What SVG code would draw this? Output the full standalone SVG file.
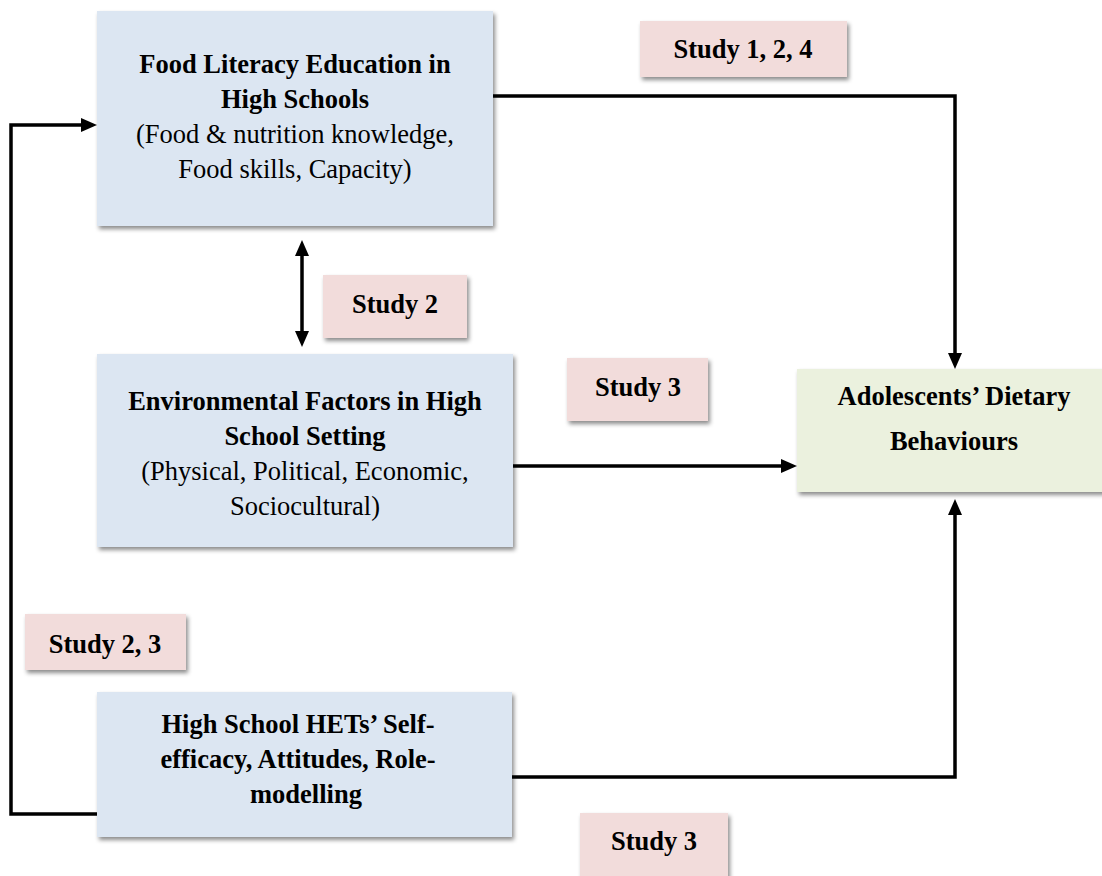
<svg xmlns="http://www.w3.org/2000/svg" width="1102" height="876" viewBox="0 0 1102 876">
  <style>
    text { font-family: "Liberation Serif", "Times New Roman", serif; font-size: 26.5px; fill: #000; text-anchor: middle; }
    .b { font-weight: bold; }
    .node-blue { fill: #dce6f2; }
    .node-green { fill: #ebf1de; }
    .lbl { fill: #f2dcdb; }
    .conn { fill: none; stroke: #000; stroke-width: 3.5; stroke-linejoin: miter; stroke-linecap: butt; }
  </style>
  <defs>
    <filter id="sh" x="-10%" y="-10%" width="125%" height="130%">
      <feDropShadow dx="2" dy="3" stdDeviation="2" flood-color="#000" flood-opacity="0.45"/>
    </filter>
    <marker id="arr" markerUnits="userSpaceOnUse" markerWidth="16" markerHeight="14" viewBox="0 0 16 14" refX="4" refY="7" orient="auto-start-reverse">
      <path d="M0,0 L16,7 L0,14 z" fill="#000"/>
    </marker>
  </defs>
  <rect width="1102" height="876" fill="#fff"/>

  <g id="food-literacy">
    <rect class="node-blue" x="97" y="11" width="396" height="215" filter="url(#sh)"/>
    <text class="b" x="295" y="73">Food Literacy Education in</text>
    <text class="b" x="295" y="108">High Schools</text>
    <text x="295" y="143">(Food &amp; nutrition knowledge,</text>
    <text x="295" y="178">Food skills, Capacity)</text>
  </g>

  <g id="environmental">
    <rect class="node-blue" x="97" y="354" width="416" height="193" filter="url(#sh)"/>
    <text class="b" x="305" y="410">Environmental Factors in High</text>
    <text class="b" x="305" y="445">School Setting</text>
    <text x="305" y="480">(Physical, Political, Economic,</text>
    <text x="305" y="515">Sociocultural)</text>
  </g>

  <g id="hets">
    <rect class="node-blue" x="97" y="692" width="415" height="145" filter="url(#sh)"/>
    <text class="b" x="298" y="733">High School HETs’ Self-</text>
    <text class="b" x="298" y="768">efficacy, Attitudes, Role-</text>
    <text class="b" x="306" y="803">modelling</text>
  </g>

  <g id="dietary">
    <rect class="node-green" x="797" y="369" width="310" height="123" filter="url(#sh)"/>
    <text class="b" x="954" y="405">Adolescents’ Dietary</text>
    <text class="b" x="954" y="450">Behaviours</text>
  </g>

  <g id="label-study124">
    <rect class="lbl" x="640" y="21" width="207" height="56" filter="url(#sh)"/>
    <text class="b" x="743" y="58">Study 1, 2, 4</text>
  </g>

  <g id="label-study2">
    <rect class="lbl" x="323" y="275" width="144" height="63" filter="url(#sh)"/>
    <text class="b" x="395" y="313">Study 2</text>
  </g>

  <g id="label-study3-mid">
    <rect class="lbl" x="567" y="358" width="141" height="63" filter="url(#sh)"/>
    <text class="b" x="638" y="396">Study 3</text>
  </g>

  <g id="label-study23">
    <rect class="lbl" x="25" y="614" width="161" height="56" filter="url(#sh)"/>
    <text class="b" x="105" y="653">Study 2, 3</text>
  </g>

  <g id="label-study3-bottom">
    <rect class="lbl" x="580" y="813" width="148" height="70" filter="url(#sh)"/>
    <text class="b" x="654" y="850">Study 3</text>
  </g>

  <g id="connectors">
    <path class="conn" d="M493,96 H955 V357" marker-end="url(#arr)"/>
    <path class="conn" d="M302,252 V335" marker-start="url(#arr)" marker-end="url(#arr)"/>
    <path class="conn" d="M513,466 H785" marker-end="url(#arr)"/>
    <path class="conn" d="M512,777 H955 V511" marker-end="url(#arr)"/>
    <path class="conn" d="M97,814 H11 V125 H85" marker-end="url(#arr)"/>
  </g>
</svg>
